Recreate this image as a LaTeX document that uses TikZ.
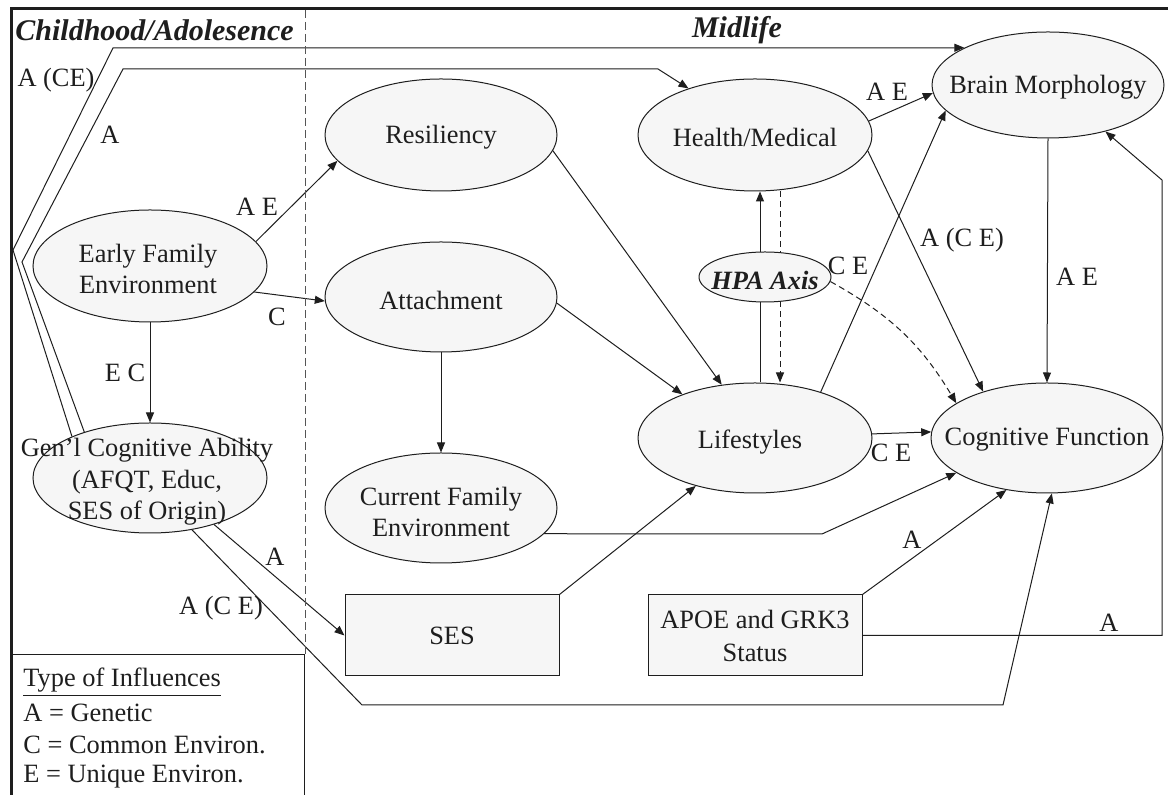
\documentclass[tikz,border=0pt]{standalone}
\usepackage{fontspec}
\setmainfont{Liberation Serif}
\usetikzlibrary{shapes.geometric,arrows.meta}
\pgfdeclarelayer{bg}
\pgfdeclarelayer{paper}
\pgfsetlayers{paper,bg,main}
\definecolor{ink}{HTML}{1E1E1E}
\definecolor{nodefill}{HTML}{F6F6F6}
\definecolor{dashgray}{HTML}{555555}
\begin{document}
\begin{tikzpicture}[x=0.5pt,y=-0.5pt,
  ell/.style={ellipse,draw=ink,fill=nodefill,line width=0.5pt,inner sep=0pt},
  rbox/.style={rectangle,draw=ink,fill=nodefill,line width=0.5pt,inner sep=0pt,
     minimum width=107pt,minimum height=40.5pt,align=center,
     font=\fontsize{13.2}{16.5}\selectfont,text=ink},
  txt/.style={font=\fontsize{13.2}{15.75}\selectfont,text=ink,align=center,inner sep=0pt},
  lbl/.style={font=\fontsize{13.2}{15.75}\selectfont,text=ink,inner sep=0pt},
  hdr/.style={font=\fontsize{15}{16}\selectfont\bfseries\itshape,text=ink,inner sep=0pt},
  conn/.style={draw=ink,line width=0.5pt,-{Triangle[length=5pt,width=4pt]}},
  dconn/.style={conn,dash pattern=on 3pt off 2pt},
]
\useasboundingbox (0,0) rectangle (1168,795);
\begin{pgfonlayer}{paper}
\fill[white] (0,0) rectangle (1168,795);
\end{pgfonlayer}

% frame
\draw[line width=1.5pt,ink] (11.5,795) -- (11.5,8.5) -- (1168,8.5);
\draw[dash pattern=on 4pt off 2pt,line width=0.5pt,dashgray] (305,10) -- (305,655);
\draw[ink,line width=0.5pt] (11.5,655) -- (304,655) -- (304,795);

% headers
\node[hdr,anchor=west] (hchild) at (15,30) {Childhood/Adolesence};
\node[hdr] (hmid) at (737,30) {Midlife};

% ellipse nodes
\node[ell,minimum width=117pt,minimum height=56pt] (ef) at (150,266) {};
\node[txt] (eft) at (148,269) {Early Family\\Environment};
\node[ell,minimum width=117pt,minimum height=55pt] (gca) at (150,478) {};
\node[txt] (gcat) at (147,482) {Gen’l Cognitive Ability\\(AFQT, Educ,\\SES of Origin)};
\node[ell,minimum width=116pt,minimum height=56pt] (res) at (441,135) {};
\node[txt] (rest) at (441,137) {Resiliency};
\node[ell,minimum width=116pt,minimum height=55pt] (att) at (441,297) {};
\node[txt] (attt) at (441,300) {Attachment};
\node[ell,minimum width=116pt,minimum height=55pt] (cfe) at (441,508) {};
\node[txt] (cfet) at (441,512) {Current Family\\Environment};
\node[ell,minimum width=117pt,minimum height=56pt] (hm) at (755,135) {};
\node[txt] (hmt) at (755,137) {Health/Medical};
\node[ell,minimum width=66pt,minimum height=25pt] (hpa) at (765,277) {};
\node[txt,font=\fontsize{13.2}{15.75}\selectfont\bfseries\itshape] (hpat) at (765,280) {HPA Axis};
\node[ell,minimum width=117pt,minimum height=55pt] (life) at (755,438) {};
\node[txt] (lifet) at (750,442) {Lifestyles};
\node[ell,minimum width=116pt,minimum height=55pt] (cf) at (1047,438) {};
\node[txt] (cft) at (1047,440) {Cognitive Function};
\node[ell,minimum width=116pt,minimum height=53pt] (bm) at (1048,85) {};
\node[txt] (bmt) at (1048,87) {Brain Morphology};

% boxes
\node[rbox] (ses) at (452,635.5) {SES};
\node[rbox] (apoe) at (755,635.5) {APOE and GRK3\\Status};

% connectors
\begin{pgfonlayer}{bg}
\draw[conn] (ef.13.7) -- (res.194);
\draw[conn] (ef.346) -- (att.182.5);
\draw[conn] (ef.south) -- (gca.north);
\draw[conn] (gca.324.6) -- (ses.west);
\draw[conn] (gca.309) -- (362,705) -- (1003,705) -- (cf.275);
\draw[conn] (gca.145) -- (22,262) -- (123,69) -- (658,69) -- (hm.145);
\draw[conn] (gca.152) -- (13,250) -- (113,48) -- (bm.156);
\draw[conn] (hm.7.3) -- (bm.184);
\draw[conn] (hm.352.7) -- (cf.144.4);
\draw[conn] (bm.south) -- (cf.north);
\draw[conn] ([xshift=2.5pt]life.north) -- ([xshift=2.5pt]hm.south);
\draw[dconn] ([xshift=12.5pt]hm.south) -- ([xshift=12.5pt]life.north);
\draw[dconn] (hpa.356) to[bend left=15] (cf.159);
\draw[conn] (life.35.3) -- (bm.194.3);
\draw[conn] (life.2.5) -- (cf.177.5);
\draw[conn] (res.352.7) -- (life.122.5);
\draw[conn] (att.357.6) -- (life.149);
\draw[conn] (att.south) -- (cfe.north);
\draw[conn] (cfe.346.3) -- (822,534) -- (cf.201.8);
\draw[conn] (ses.north east) -- (life.219.6);
\draw[conn] (apoe.north east) -- (cf.232);
\draw[conn] (apoe.east) -- (1162,635.5) -- (1162,180) -- (bm.321.5);
\end{pgfonlayer}

% labels
\node[lbl] (l1) at (56,80) {A (CE)};
\node[lbl] (l2) at (110,135) {A};
\node[lbl] (l3) at (257,207) {A E};
\node[lbl] (l4) at (277,317) {C};
\node[lbl] (l5) at (125,373) {E C};
\node[lbl] (l6) at (275,557) {A};
\node[lbl] (l7) at (221,608) {A (C E)};
\node[lbl] (l8) at (887,92) {A E};
\node[lbl] (l9) at (962,240) {A (C E)};
\node[lbl] (l10) at (848,266) {C E};
\node[lbl] (l11) at (1077,277) {A E};
\node[lbl] (l12) at (891,453) {C E};
\node[lbl] (l13) at (912,540) {A};
\node[lbl] (l14) at (1109,623) {A};

% legend
\node[lbl,anchor=west] (lg1) at (23,682) {\underline{Type of Influences}};
\node[lbl,anchor=west] (lg2) at (23,713) {A = Genetic};
\node[lbl,anchor=west] (lg3) at (23,745) {C = Common Environ.};
\node[lbl,anchor=west] (lg4) at (23,777) {E = Unique Environ.};
\end{tikzpicture}
\end{document}
